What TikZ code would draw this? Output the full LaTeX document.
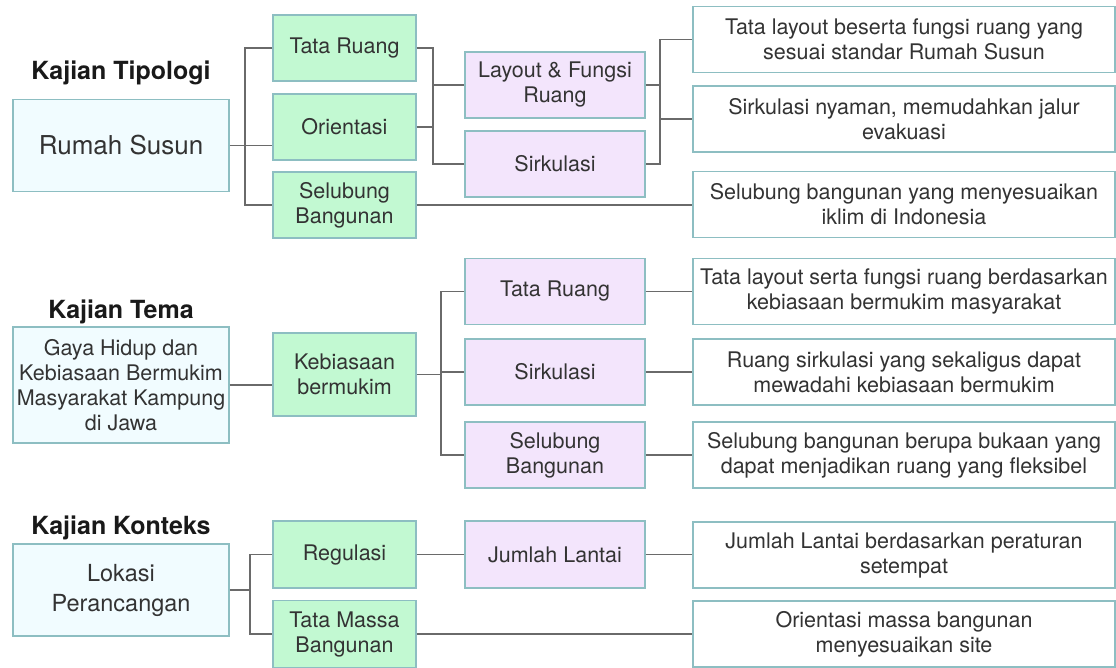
\documentclass[tikz,border=0pt]{standalone}
\usepackage{fontspec}
\setmainfont{TeX Gyre Heros}
\definecolor{txt}{HTML}{333333}
\definecolor{edge}{HTML}{8DBEC2}
\definecolor{greenf}{HTML}{C2F9D2}
\definecolor{purplef}{HTML}{F3E5FC}
\definecolor{cyanf}{HTML}{F1FCFF}
\definecolor{linec}{HTML}{6A6A6A}
\tikzset{
  base/.style={draw=edge, line width=1.3pt, text=txt, align=center, inner sep=2pt,
    font=\fontsize{21.5}{25}\selectfont},
  mainbox/.style={base, fill=cyanf, minimum width=216pt},
  greenbox/.style={base, fill=greenf, minimum width=143pt, minimum height=66pt},
  purplebox/.style={base, fill=purplef, minimum width=180pt, minimum height=66pt},
  descbox/.style={base, fill=white, minimum width=422pt, minimum height=66pt},
  title/.style={text=black!90, font=\fontsize{25}{28}\selectfont\bfseries},
  conn/.style={draw=linec, line width=1.3pt}
}
\begin{document}
\begin{tikzpicture}[x=1pt,y=-1pt]
\useasboundingbox (0,0) rectangle (1116,667);
% ---------- Top: Kajian Tipologi ----------
\node[title] (t1) at (121,73) {Kajian Tipologi};
\node[mainbox, minimum height=92pt, font=\fontsize{26}{30}\selectfont] (rs) at (121,145.5) {Rumah Susun};
\node[greenbox] (tr) at (344.5,48) {Tata Ruang};
\node[greenbox] (or) at (344.5,127) {Orientasi};
\node[greenbox] (sb) at (344.5,205) {Selubung\\Bangunan};
\node[purplebox] (lf) at (555,85) {Layout \& Fungsi\\Ruang};
\node[purplebox] (sk) at (555,164) {Sirkulasi};
\node[descbox] (r1) at (904,39.5) {Tata layout beserta fungsi ruang yang\\sesuai standar Rumah Susun};
\node[descbox] (r2) at (904,119) {Sirkulasi nyaman, memudahkan jalur\\evakuasi};
\node[descbox] (r3) at (904,204.5) {Selubung bangunan yang menyesuaikan\\iklim di Indonesia};
\coordinate (j1) at (245,0);
\coordinate (j2) at (433,0);
\coordinate (j3) at (660,0);
\draw[conn] (rs.east) -- (rs.east -| or.west);
\draw[conn] (tr.west) -- (tr.west -| j1) -- (sb.west -| j1) -- (sb.west);
\draw[conn] (tr.east) -- (tr.east -| j2) -- (sk.west -| j2) -- (sk.west);
\draw[conn] (or.east) -- (or.east -| j2);
\draw[conn] (lf.west -| j2) -- (lf.west);
\draw[conn] (r1.west) -- (r1.west -| j3) -- (sk.east -| j3) -- (sk.east);
\draw[conn] (lf.east) -- (lf.east -| j3);
\draw[conn] (r2.west -| j3) -- (r2.west);
\draw[conn] (sb.east) -- (sb.east -| r3.west);
% ---------- Middle: Kajian Tema ----------
\node[title] (t2) at (121,312) {Kajian Tema};
\node[mainbox, minimum height=116pt, font=\fontsize{21.5}{25}\selectfont] (gh) at (121,385) {Gaya Hidup dan\\Kebiasaan Bermukim\\Masyarakat Kampung\\di Jawa};
\node[greenbox, minimum height=83pt] (kb) at (344.5,374.5) {Kebiasaan\\bermukim};
\node[purplebox] (p1) at (555,291.5) {Tata Ruang};
\node[purplebox] (p2) at (555,372) {Sirkulasi};
\node[purplebox] (p3) at (555,455) {Selubung\\Bangunan};
\node[descbox] (m1) at (904,291.5) {Tata layout serta fungsi ruang berdasarkan\\kebiasaan bermukim masyarakat};
\node[descbox] (m2) at (904,372) {Ruang sirkulasi yang sekaligus dapat\\mewadahi kebiasaan bermukim};
\node[descbox] (m3) at (904,455) {Selubung bangunan berupa bukaan yang\\dapat menjadikan ruang yang fleksibel};
\coordinate (j4) at (441,0);
\draw[conn] (gh.east) -- (gh.east -| kb.west);
\draw[conn] (kb.east) -- (kb.east -| j4);
\draw[conn] (p1.west) -- (p1.west -| j4) -- (p3.west -| j4) -- (p3.west);
\draw[conn] (p2.west -| j4) -- (p2.west);
\draw[conn] (p1.east) -- (m1.west);
\draw[conn] (p2.east) -- (m2.west);
\draw[conn] (p3.east) -- (m3.west);
% ---------- Bottom: Kajian Konteks ----------
\node[title] (t3) at (121,528) {Kajian Konteks};
\node[mainbox, minimum height=92pt, font=\fontsize{23.5}{30}\selectfont] (lp) at (121,590) {Lokasi\\Perancangan};
\node[greenbox, minimum height=67pt] (rg) at (344.5,554.5) {Regulasi};
\node[greenbox, minimum height=67pt] (tm) at (344.5,634) {Tata Massa\\Bangunan};
\node[purplebox, minimum height=67pt] (jl) at (555,554.5) {Jumlah Lantai};
\node[descbox] (b1) at (904,555) {Jumlah Lantai berdasarkan peraturan\\setempat};
\node[descbox] (b2) at (904,634) {Orientasi massa bangunan\\menyesuaikan site};
\coordinate (j5) at (250,0);
\draw[conn] (lp.east) -- (lp.east -| j5);
\draw[conn] (rg.west) -- (rg.west -| j5) -- (tm.west -| j5) -- (tm.west);
\draw[conn] (rg.east) -- (jl.west);
\draw[conn] (jl.east) -- (jl.east -| b1.west);
\draw[conn] (tm.east) -- (tm.east -| b2.west);
\end{tikzpicture}
\end{document}
